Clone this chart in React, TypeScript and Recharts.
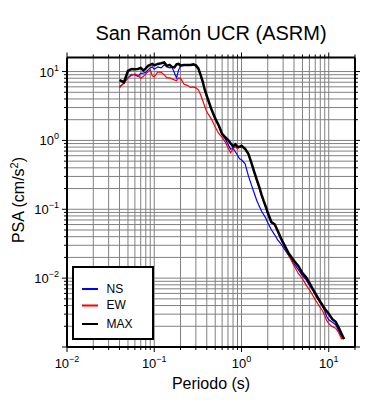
import { LineChart, Line, XAxis, YAxis, CartesianGrid } from 'recharts';

const periods = [
  0.04, 0.045, 0.05, 0.055, 0.06, 0.065, 0.07, 0.075, 0.08, 0.085, 0.09, 0.095,
  0.1, 0.11, 0.12, 0.13, 0.14, 0.15, 0.16, 0.17, 0.18, 0.19,
  0.2, 0.22, 0.24, 0.26, 0.28, 0.3, 0.32, 0.34, 0.36, 0.38,
  0.4, 0.45, 0.5, 0.55, 0.6, 0.65, 0.7, 0.75, 0.8, 0.85, 0.9, 0.95,
  1.0, 1.1, 1.2, 1.3, 1.4, 1.5, 1.6, 1.7, 1.8, 1.9,
  2.0, 2.2, 2.4, 2.6, 2.8, 3.0, 3.5,
  4.0, 4.5, 5.0, 5.5, 6.0, 6.5, 7.0, 7.5, 8.0, 8.5, 9.0, 9.5,
  10, 11, 12, 13, 14, 15,
];

const psaNS = [
  6.0, 6.85, 8.1, 9.1, 8.96, 8.5, 9.42, 9.48, 9.73, 10.6, 11.3, 11.7,
  10.8, 11.7, 11.3, 12.5, 11.7, 11.3, 11.5, 9.58, 8.1, 10.5,
  12.0, 12.3, 12.3, 12.3, 12.5, 12.1, 10.9, 8.8, 7.0, 5.3,
  4.35, 2.85, 2.05, 1.6, 1.2, 1.06, 0.88, 0.743, 0.768, 0.684, 0.608, 0.541,
  0.523, 0.457, 0.306, 0.226, 0.171, 0.133, 0.111, 0.0936, 0.0832, 0.074,
  0.0637, 0.0504, 0.0426, 0.036, 0.0321, 0.0281, 0.0211,
  0.0162, 0.0132, 0.0108, 0.0095, 0.0079, 0.0068, 0.00574, 0.00494, 0.0044, 0.00385, 0.00336, 0.00275,
  0.00249, 0.00229, 0.00211, 0.00173, 0.00141, 0.00134,
];

const psaEW = [
  5.8, 6.85, 8.1, 8.8, 9.27, 8.8, 8.0, 8.46, 9.27, 9.9, 10.6, 8.67,
  8.38, 9.9, 9.73, 8.96, 8.1, 8.1, 7.84, 7.58, 7.33, 8.1,
  7.96, 6.52, 6.31, 5.9, 6.0, 5.8, 5.42, 4.59, 3.76, 3.08,
  2.6, 2.06, 1.57, 1.25, 1.11, 0.955, 0.781, 0.66, 0.755, 0.807, 0.755, 0.807,
  0.807, 0.755, 0.618, 0.46, 0.335, 0.255, 0.198, 0.158, 0.128, 0.106,
  0.087, 0.064, 0.059, 0.047, 0.038, 0.031, 0.0211,
  0.0151, 0.0116, 0.0098, 0.008, 0.00679, 0.00574, 0.00485, 0.00425, 0.00372, 0.00336, 0.00285, 0.00241,
  0.00218, 0.00197, 0.00188, 0.00161, 0.00132, 0.00136,
];

const psaMAX = [
  7.5, 7.0, 10.2, 10.9, 10.8, 10.9, 11.3, 10.4, 11.1, 12.1, 12.5, 12.9,
  12.3, 12.9, 13.2, 13.6, 12.1, 12.5, 11.7, 11.5, 12.7, 12.9,
  12.3, 12.5, 12.5, 12.5, 12.7, 12.3, 11.1, 8.96, 7.1, 5.4,
  4.43, 2.88, 2.09, 1.63, 1.25, 1.11, 1.02, 0.908, 0.82, 0.877, 0.807, 0.807,
  0.836, 0.755, 0.64, 0.473, 0.35, 0.268, 0.209, 0.162, 0.131, 0.109,
  0.089, 0.0652, 0.0605, 0.0487, 0.0393, 0.0327, 0.0226,
  0.0179, 0.0149, 0.0118, 0.0103, 0.00857, 0.00713, 0.00604, 0.0052, 0.00454, 0.00404, 0.0036, 0.00331,
  0.00304, 0.00253, 0.00233, 0.00191, 0.00156, 0.0013,
];

const xTicks = [
  0.01, 0.02, 0.03, 0.04, 0.05, 0.06, 0.07, 0.08, 0.09,
  0.1, 0.2, 0.3, 0.4, 0.5, 0.6, 0.7, 0.8, 0.9,
  1, 2, 3, 4, 5, 6, 7, 8, 9,
  10, 20,
];

const yTicks = [
  0.001, 0.002, 0.003, 0.004, 0.005, 0.006, 0.007, 0.008, 0.009,
  0.01, 0.02, 0.03, 0.04, 0.05, 0.06, 0.07, 0.08, 0.09,
  0.1, 0.2, 0.3, 0.4, 0.5, 0.6, 0.7, 0.8, 0.9,
  1, 2, 3, 4, 5, 6, 7, 8, 9,
  10,
];

const data = periods.map((t, i) => ({ t, ns: psaNS[i], ew: psaEW[i], max: psaMAX[i] }));

const FONT = '"Liberation Sans", Arial, Helvetica, sans-serif';

const legendItems = [
  { name: 'NS', color: '#0000ff' },
  { name: 'EW', color: '#ff0000' },
  { name: 'MAX', color: '#000000' },
];

function decadeExp(v: number) {
  const l = Math.log10(v);
  const r = Math.round(l);
  return Math.abs(l - r) < 1e-6 ? r : null;
}

function expText(e: number) {
  return e < 0 ? '\u2212' + Math.abs(e) : String(e);
}

const BottomTick = (props: any) => {
  const { x, y, payload } = props;
  const e = decadeExp(payload.value);
  return (
    <g>
      <line x1={x} y1={y} x2={x} y2={y + (e !== null ? 5 : 3)} stroke="#000" />
      {e !== null && (
        <text x={x} y={y + 21} textAnchor="middle" fontSize={13} fontFamily={FONT} fill="#000">
          10<tspan dy={-6} fontSize={9}>{expText(e)}</tspan>
        </text>
      )}
    </g>
  );
};

const TopTick = (props: any) => {
  const { x, y, payload } = props;
  const e = decadeExp(payload.value);
  return <line x1={x} y1={y} x2={x} y2={y - (e !== null ? 5 : 3)} stroke="#000" />;
};

const LeftTick = (props: any) => {
  const { x, y, payload } = props;
  const e = decadeExp(payload.value);
  return (
    <g>
      <line x1={x} y1={y} x2={x - (e !== null ? 5 : 3)} y2={y} stroke="#000" />
      {e !== null && e > -3 && (
        <text x={x - 8} y={y + 5} textAnchor="end" fontSize={13} fontFamily={FONT} fill="#000">
          10<tspan dy={-6} fontSize={9}>{expText(e)}</tspan>
        </text>
      )}
    </g>
  );
};

const RightTick = (props: any) => {
  const { x, y, payload } = props;
  const e = decadeExp(payload.value);
  return <line x1={x} y1={y} x2={x + (e !== null ? 5 : 3)} y2={y} stroke="#000" />;
};

export default function App() {
  return (
    <div style={{ position: 'absolute', left: 0, top: 0, width: 390, height: 400, background: '#fff' }}>
      <LineChart width={390} height={400} data={data} margin={{ top: 52.5, right: 30, bottom: 13, left: 7 }}>
        <CartesianGrid xAxisId="bottom" yAxisId="left" stroke="#808080" strokeWidth={1} />
        <XAxis
          xAxisId="bottom"
          dataKey="t"
          type="number"
          scale="log"
          domain={[0.01, 20]}
          allowDataOverflow
          ticks={xTicks}
          interval={0}
          height={40}
          tickSize={0}
          tickMargin={0}
          tickLine={false}
          tick={<BottomTick />}
          axisLine={{ stroke: '#000', strokeWidth: 2 }}
        />
        <XAxis
          xAxisId="top"
          orientation="top"
          dataKey="t"
          type="number"
          scale="log"
          domain={[0.01, 20]}
          allowDataOverflow
          ticks={xTicks}
          interval={0}
          height={5}
          tickSize={0}
          tickMargin={0}
          tickLine={false}
          tick={<TopTick />}
          axisLine={{ stroke: '#000', strokeWidth: 2 }}
        />
        <YAxis
          yAxisId="left"
          type="number"
          scale="log"
          domain={[0.001, 16]}
          allowDataOverflow
          ticks={yTicks}
          interval={0}
          width={60}
          tickSize={0}
          tickMargin={0}
          tickLine={false}
          tick={<LeftTick />}
          axisLine={{ stroke: '#000', strokeWidth: 2 }}
        />
        <YAxis
          yAxisId="right"
          orientation="right"
          type="number"
          scale="log"
          domain={[0.001, 16]}
          allowDataOverflow
          ticks={yTicks}
          interval={0}
          width={5}
          tickSize={0}
          tickMargin={0}
          tickLine={false}
          tick={<RightTick />}
          axisLine={{ stroke: '#000', strokeWidth: 2 }}
        />
        <Line xAxisId="bottom" yAxisId="left" dataKey="ns" stroke="#0000ff" strokeWidth={1.2} dot={false} isAnimationActive={false} />
        <Line xAxisId="bottom" yAxisId="left" dataKey="ew" stroke="#ff0000" strokeWidth={1.2} dot={false} isAnimationActive={false} />
        <Line xAxisId="bottom" yAxisId="left" dataKey="max" stroke="#000000" strokeWidth={2.5} dot={false} isAnimationActive={false} />
      </LineChart>
      <svg width={390} height={400} style={{ position: 'absolute', left: 0, top: 0, pointerEvents: 'none' }}>
        <text x={211} y={39.5} textAnchor="middle" fontSize={20} fontFamily={FONT} fill="#000">
          San Ramón UCR (ASRM)
        </text>
        <text x={211} y={388.5} textAnchor="middle" fontSize={16} fontFamily={FONT} fill="#000">
          Periodo (s)
        </text>
        <text transform="translate(24,200) rotate(-90)" textAnchor="middle" fontSize={16} fontFamily={FONT} fill="#000">
          PSA (cm/s<tspan dy={-6} fontSize={11}>2</tspan><tspan dy={6}>)</tspan>
        </text>
        <rect x={73} y={267} width={80} height={72} fill="#fff" stroke="#000" strokeWidth={2} />
        {legendItems.map((it, i) => {
          const ly = [289, 305.5, 324][i];
          return (
            <g key={it.name}>
              <line x1={82} y1={ly} x2={98} y2={ly} stroke={it.color} strokeWidth={2} />
              <text x={106.5} y={ly + 3.5} fontSize={12} fontFamily={FONT} fill="#000">
                {it.name}
              </text>
            </g>
          );
        })}
      </svg>
    </div>
  );
}
